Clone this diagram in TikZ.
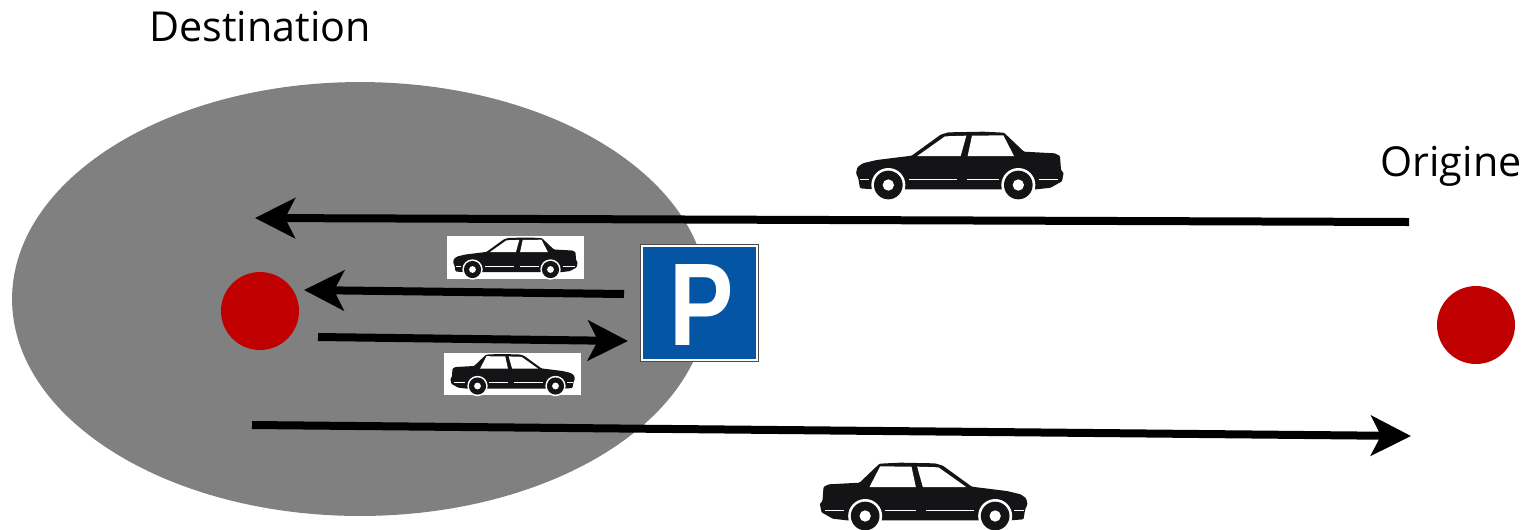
\documentclass[tikz,border=0pt]{standalone}
\usepackage{fontspec}
\setmainfont{Open Sans}
\newfontfamily\signfont{Liberation Sans}
\usetikzlibrary{arrows.meta, shapes.geometric}

\definecolor{signblue}{HTML}{0455A4}
\definecolor{dotred}{HTML}{C00000}
\definecolor{carblack}{HTML}{141416}

\begin{document}
\begin{tikzpicture}[
    x=0.02cm, y=-0.02cm,
    zone/.style={ellipse, fill=black!50, minimum width=13.92cm, minimum height=8.68cm, inner sep=0pt},
    dot/.style={circle, fill=dotred, minimum size=1.56cm, inner sep=0pt},
    label/.style={font=\fontsize{23.5}{28}\selectfont, inner sep=0pt},
    carback/.style={rectangle, fill=white, minimum width=2.74cm, minimum height=0.85cm, inner sep=0pt},
    sign/.style={rectangle, draw=black!70, line width=0.02cm, fill=white, minimum width=2.36cm, minimum height=2.34cm, inner sep=0pt},
    signface/.style={rectangle, fill=signblue, minimum width=2.26cm, minimum height=2.24cm, inner sep=0pt},
    arrow/.style={-{Stealth[length=0.8cm, width=0.8cm, inset=0.2cm]}, line width=0.16cm, black},
    car/.pic={
        \begin{scope}[x=0.00667cm, y=-0.00667cm, shift={(-360,-135)}]
            % body
            \fill[carblack, rounded corners=0.02cm] (48,160) -- (52,142) -- (68,130) -- (110,120) -- (215,107) -- (302,44)
                -- (325,37) -- (430,35) -- (492,38) -- (552,95) -- (645,100) -- (660,108)
                -- (663,150) -- (671,158) -- (666,184) -- (632,203) -- (590,208) -- (100,208)
                -- (60,205) -- (55,175) -- cycle;
            % windows
            \fill[white] (232,108) -- (315,49) -- (379,47) -- (362,108) -- cycle;
            \fill[white] (383,108) -- (396,47) -- (490,46) -- (522,108) -- cycle;
            % side stripes
            \fill[white] (60,176) rectangle (88,181);
            \fill[white] (208,176) rectangle (352,181);
            \fill[white] (382,176) rectangle (476,181);
            \fill[white] (598,176) rectangle (655,181);
            % wheels
            \foreach \wx in {145,535} {
                \fill[white] (\wx,195) circle[radius=51];
                \fill[carblack] (\wx,195) circle[radius=43];
                \fill[white] (\wx,195) circle[radius=17];
            }
        \end{scope}
    }
]
\useasboundingbox (0,0) rectangle (1529,529);

% Destination zone
\node[zone] (zone) at (360,299) {};
\node[label] (destination) at (260,27) {Destination};
\node[label] (origine) at (1451,166) {Origine};

% Dots
\node[dot] (dest_dot) at (260,311) {};
\node[dot] (orig_dot) at (1476,325) {};

% Parking sign
\node[sign] (parking) at (699.5,302.5) {};
\node[signface] (parking_face) at (parking) {};
\node[font=\signfont\bfseries\fontsize{67}{67}\selectfont, text=white, inner sep=0pt, xscale=0.82] (parking_p) at (701.5,305) {P};

% Cars
\pic at (960,165) {car};
\pic[xscale=-1] at (923.5,496) {car};
\node[carback] (car_in) at (515.5,257.5) {};
\node[carback] (car_out) at (512.5,374) {};
\pic[scale=0.6] at (car_in) {car};
\pic[xscale=-0.6, yscale=0.6] at (car_out) {car};

% Arrow ends
\coordinate (main_in_a) at (1409,222);
\coordinate (main_in_b) at (255,218);
\coordinate (walk_in_a) at (624,294);
\coordinate (walk_in_b) at (304,290);
\coordinate (walk_out_a) at (318,337);
\coordinate (walk_out_b) at (628,341);
\coordinate (main_out_a) at (252,425);
\coordinate (main_out_b) at (1411,436);

% Connections
\draw[arrow] (main_in_a) -- (main_in_b);
\draw[arrow] (walk_in_a) -- (walk_in_b);
\draw[arrow] (walk_out_a) -- (walk_out_b);
\draw[arrow] (main_out_a) -- (main_out_b);

\end{tikzpicture}
\end{document}
